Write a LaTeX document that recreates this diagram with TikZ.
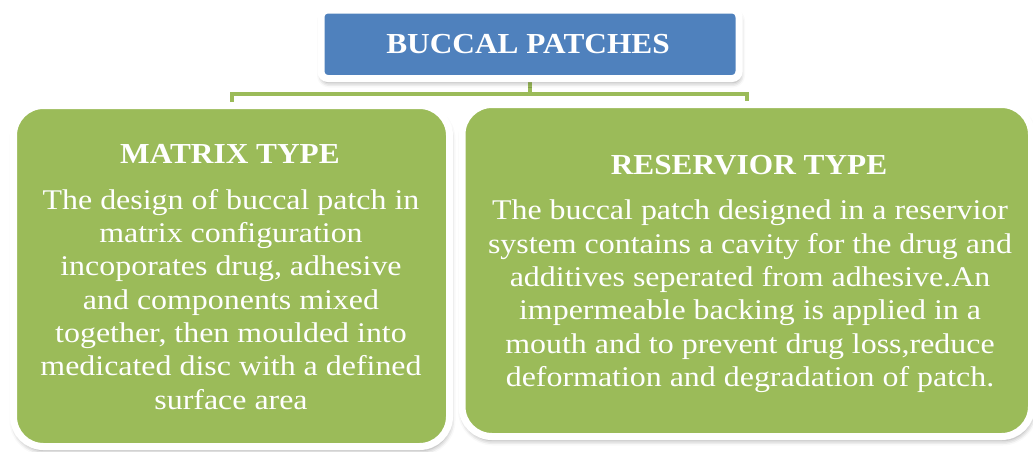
\documentclass[tikz,border=0pt]{standalone}
\usepackage{fontspec}
\setmainfont{Liberation Serif}
\newfontfamily\widefont[FakeStretch=1.08]{Liberation Serif}
\newfontfamily\bodyfont[FakeStretch=1.12]{Liberation Serif}
\usetikzlibrary{shadows.blur,backgrounds}
\definecolor{leaf}{HTML}{9BBB59}
\definecolor{sky}{HTML}{4F81BD}
\tikzset{
  x=1pt, y=1pt,
  panel/.style={draw=white, line width=7pt, rounded corners=30pt,
    fill=leaf, minimum width=#1, inner sep=0pt,
    blur shadow={shadow xshift=1pt, shadow yshift=-4pt,
                 shadow blur radius=5pt, shadow opacity=40}},
  header/.style={draw=white, line width=7pt, rounded corners=7pt,
    fill=sky, inner sep=0pt,
    blur shadow={shadow xshift=1pt, shadow yshift=-4pt,
                 shadow blur radius=5pt, shadow opacity=40}},
  heading/.style={text=white, font=\widefont\bfseries\fontsize{29}{33}\selectfont,
    inner sep=0pt, anchor=base},
  body/.style={text=white, align=center, inner sep=0pt, anchor=north,
    font=\bodyfont\fontsize{28.5}{33.3}\selectfont},
  conn/.style={draw=leaf, line width=4pt}
}
\begin{document}
\begin{tikzpicture}
\useasboundingbox (0,0) rectangle (1033,-451);

% boxes
\node[header, minimum width=418, minimum height=68.5] (top) at (530,-44.25) {};
\node[panel=436, minimum height=341] (left) at (231.5,-276) {};
\node[panel=569.5, minimum height=332] (right) at (746.75,-270.5) {};

% connectors behind the boxes
\begin{pgfonlayer}{background}
  \draw[conn] (left.north) -- ++(0,8) coordinate (bar) -| (right.north);
  \draw[conn] (top.south) -- (top.south |- bar);
\end{pgfonlayer}

% texts
\node[heading] (toptitle) at (528,-53) {BUCCAL PATCHES};
\node[heading] (lefttitle) at (230,-163) {MATRIX TYPE};
\node[body] (lefttext) at (231,-189) {The design of buccal patch in\\
  matrix configuration\\
  incoporates drug, adhesive\\
  and components mixed\\
  together, then moulded into\\
  medicated disc with a defined\\
  surface area};
\node[heading] (righttitle) at (749,-174) {RESERVIOR TYPE};
\node[body] (righttext) at (750,-200) {The buccal patch designed in a reservior\\
  system contains a cavity for the drug and\\
  additives seperated from adhesive.An\\
  impermeable backing is applied in a\\
  mouth and to prevent drug loss,reduce\\
  deformation and degradation of patch.};
\end{tikzpicture}
\end{document}
